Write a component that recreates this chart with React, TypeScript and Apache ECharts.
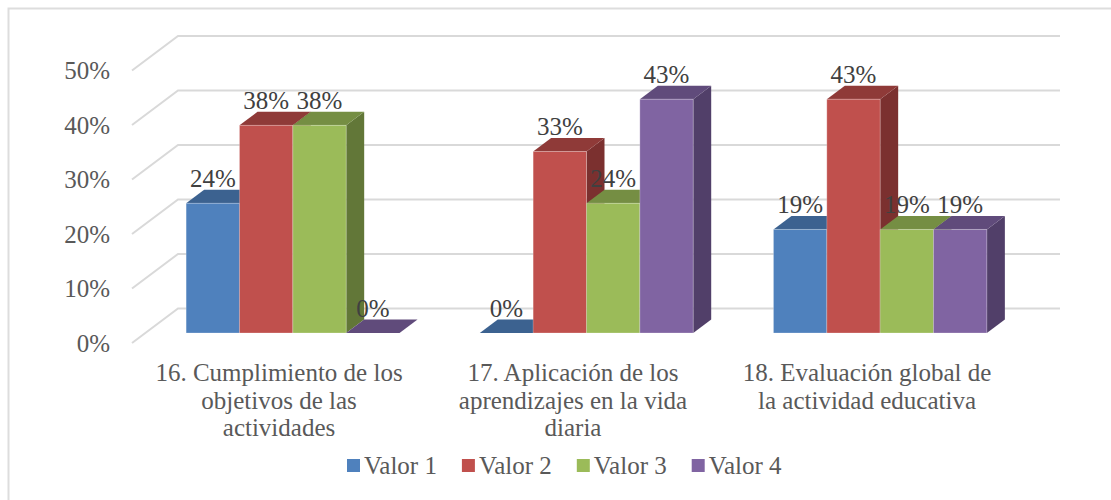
import React, { useEffect, useRef } from "react";
import * as echarts from "echarts";

const categories = [
  "16. Cumplimiento de los\nobjetivos de las\nactividades",
  "17. Aplicación de los\naprendizajes en la vida\ndiaria",
  "18. Evaluación global de\nla actividad educativa",
];
const seriesNames = ["Valor 1", "Valor 2", "Valor 3", "Valor 4"];
const valor1 = [23.8, 0, 19];
const valor2 = [38.1, 33.3, 42.9];
const valor3 = [38.1, 23.8, 19];
const valor4 = [0, 42.9, 19];
const ticks = [0, 10, 20, 30, 40, 50];

const FONT = '"Liberation Serif", serif';
const front = ["#4F81BD", "#C0504D", "#9BBB59", "#8064A2"];
const top = ["#3C6290", "#8F3A38", "#758E43", "#604B7B"];
const side = ["#375D8A", "#7B302F", "#627738", "#513F69"];
const DX = 18;
const DY = 13.5;
const WALL_DX = 46;
const WALL_DY = 34.5;
const GROUP_RATIO = 0.7267;

function App() {
  const ref = useRef<HTMLDivElement>(null);
  useEffect(() => {
    const chart = echarts.init(ref.current!, null, { renderer: "svg" });
    const allValues = [valor1, valor2, valor3, valor4];
    const barSeries = allValues.map((vals, si) => ({
      type: "custom",
      name: seriesNames[si],
      xAxisIndex: 0,
      yAxisIndex: 0,
      z: 3,
      itemStyle: { color: front[si] },
      encode: { x: 0, y: 1 },
      data: vals.map((v, i) => [i, v]),
      renderItem: (_p: any, api: any) => {
        const base = api.coord([api.value(0), 0]);
        const head = api.coord([api.value(0), api.value(1)]);
        const band = api.size([1, 0])[0];
        const w = (band * GROUP_RATIO) / 4;
        const x0 = base[0] - (band * GROUP_RATIO) / 2 + si * w;
        const x1 = x0 + w;
        const yB = base[1];
        const yT = head[1];
        const children: any[] = [
          {
            type: "polygon",
            shape: { points: [[x1, yB], [x1 + DX, yB - DY], [x1 + DX, yT - DY], [x1, yT]] },
            style: { fill: side[si] },
          },
          {
            type: "polygon",
            shape: { points: [[x0, yT], [x0 + DX, yT - DY], [x1 + DX, yT - DY], [x1, yT]] },
            style: { fill: top[si] },
          },
        ];
        if (yB > yT) {
          children.push({
            type: "rect",
            shape: { x: x0, y: yT, width: w, height: yB - yT },
            style: { fill: front[si], stroke: "rgba(255,255,255,0.25)", lineWidth: 1 },
          });
        }
        children.push({
          type: "text",
          style: {
            x: x0 + w / 2,
            y: yT - 25,
            text: Math.round(api.value(1)) + "%",
            fill: "#404040",
            font: `25px ${FONT}`,
            align: "center",
            verticalAlign: "middle",
          },
          z2: 10,
        });
        return { type: "group", children };
      },
    }));

    chart.setOption({
      animation: false,
      backgroundColor: "#fff",
      graphic: [
        {
          type: "polyline",
          shape: { points: [[8.5, 500], [8.5, 8.5], [1111, 8.5]] },
          style: { fill: "none", stroke: "#DDDDDD", lineWidth: 2 },
          silent: true,
        },
      ],
      legend: {
        data: seriesNames,
        left: 342,
        top: 448,
        itemWidth: 13,
        itemHeight: 13,
        itemGap: 25,
        icon: "rect",
        textStyle: { color: "#595959", fontFamily: FONT, fontSize: 25, padding: [0, 0, 0, -1] },
      },
      grid: [
        { left: 146, width: 881, top: 60.5, height: 272.5 },
        { left: 132, width: 882, top: 70.5, height: 272.5 },
      ],
      xAxis: [
        { gridIndex: 0, type: "category", data: categories, show: false },
        {
          gridIndex: 1,
          type: "category",
          data: categories,
          axisLine: { show: false },
          axisTick: { show: false },
          axisLabel: {
            color: "#595959",
            fontFamily: FONT,
            fontSize: 25,
            lineHeight: 27.5,
            margin: 16,
            interval: 0,
          },
        },
      ],
      yAxis: [
        { gridIndex: 0, type: "value", min: 0, max: 50, interval: 10, show: false },
        {
          gridIndex: 1,
          type: "value",
          min: 0,
          max: 50,
          interval: 10,
          axisLine: { show: false },
          axisTick: { show: false },
          splitLine: { show: false },
          axisLabel: {
            color: "#595959",
            fontFamily: FONT,
            fontSize: 25,
            margin: 22,
            formatter: "{value}%",
          },
        },
      ],
      series: [
        {
          type: "custom",
          xAxisIndex: 1,
          yAxisIndex: 1,
          z: 1,
          silent: true,
          encode: { y: 0 },
          data: ticks.map((t) => [t]),
          renderItem: (params: any, api: any) => {
            const p = api.coord([0, api.value(0)]);
            const x = params.coordSys.x;
            const right = x + params.coordSys.width;
            return {
              type: "polyline",
              shape: {
                points: [
                  [x, p[1]],
                  [x + WALL_DX, p[1] - WALL_DY],
                  [right + WALL_DX, p[1] - WALL_DY],
                ],
              },
              style: { fill: "none", stroke: "#D9D9D9", lineWidth: 2 },
            };
          },
        },
        ...barSeries,
      ],
    });
    return () => chart.dispose();
  }, []);
  return (
    <div
      ref={ref}
      style={{ position: "fixed", left: 0, top: 0, width: 1111, height: 500 }}
    />
  );
}

export default App;
